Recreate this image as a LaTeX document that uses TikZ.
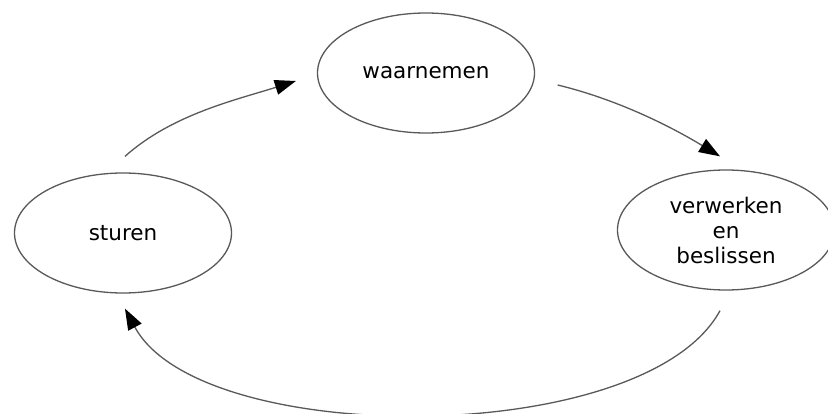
\documentclass[tikz,border=0pt]{standalone}
\usepackage{fontspec}
\setmainfont{DejaVu Sans}
\usetikzlibrary{shapes.geometric,arrows.meta}
\begin{document}
\begin{tikzpicture}[x=1pt,y=-1pt,
  bubble/.style={ellipse, draw=black!65, line width=1.3pt, minimum width=217pt, minimum height=120pt, inner sep=0pt, font=\fontsize{21.5}{25}\selectfont, align=center, text=black},
  flow/.style={draw=black!65, line width=1.3pt, -{Triangle[length=21pt,width=15pt,color=black]}}]
\fill[white] (0,0) rectangle (828,414);
\useasboundingbox (0,0) rectangle (828,414);
\node[bubble] (w) at (426,73) {waarnemen};
\node[bubble] (v) at (726,230) {verwerken\\en\\beslissen};
\node[bubble] (s) at (123,233) {sturen};
\coordinate (a1) at ([xshift=2pt,yshift=16pt]s.north);
\coordinate (b1) at ([xshift=-21pt,yshift=-8pt]w.west);
\coordinate (a2) at ([xshift=22.5pt,yshift=-12pt]w.east);
\coordinate (b2) at ([xshift=-6pt,yshift=13pt]v.north);
\coordinate (a3) at ([xshift=-6pt,yshift=-20pt]v.south);
\coordinate (b3) at ([xshift=2pt,yshift=-15pt]s.south);
\draw[flow] (a1) .. controls +(47,-42) and +(-60,19) .. (b1);
\draw[flow] (a2) .. controls +(58,14) and +(-51,-31) .. (b2);
\draw[flow] (a3) .. controls +(-75,138) and +(75,140) .. (b3);
\end{tikzpicture}
\end{document}
